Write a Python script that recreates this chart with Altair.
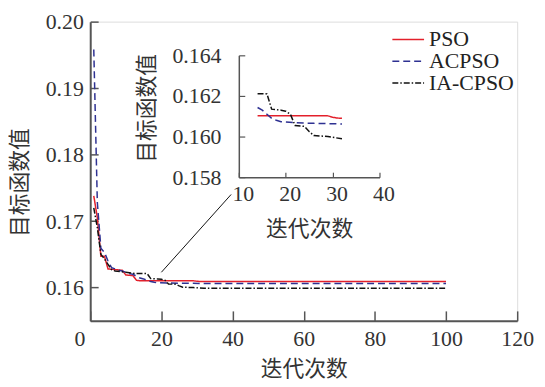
import altair as alt
import pandas as pd

# ---------------- data ----------------
series_names = ["PSO", "ACPSO", "IA-CPSO"]
series_colors = ["#e3202b", "#2e3192", "#111111"]
series_dash = [[1, 0], [7, 4], [6, 2, 1.5, 2]]

pso_iter = [1, 2, 3, 4, 5, 9, 10, 12, 13, 14, 29, 30, 31, 32, 100]
pso_val = [0.1738, 0.1705, 0.1647, 0.1647, 0.1628, 0.1626, 0.1619, 0.1618,
           0.1611, 0.16102, 0.16102, 0.16095, 0.16091, 0.16090, 0.16090]

acpso_iter = [1, 2, 3, 4, 5, 6, 7, 8, 9, 10, 11, 12, 13, 14, 15, 16, 17, 18,
              19, 22, 26, 32, 100]
acpso_val = [0.1958, 0.1728, 0.1659, 0.1653, 0.1640, 0.1630, 0.1628, 0.1626,
             0.1625, 0.1623, 0.1621, 0.1620, 0.1617, 0.16143, 0.1613, 0.1611,
             0.1609, 0.1608, 0.16073, 0.16068, 0.16065, 0.16062, 0.16062]

ia_iter = [1, 2, 3, 4, 5, 6, 7, 10, 13, 14, 15, 16, 17, 19, 20, 21, 22, 24,
           25, 26, 29, 32, 100]
ia_val = [0.1720, 0.1690, 0.1650, 0.1643, 0.1635, 0.1627, 0.1625, 0.1623,
          0.1621, 0.16211, 0.16211, 0.16210, 0.16135, 0.16130, 0.16125,
          0.16110, 0.16054, 0.16050, 0.16025, 0.16005, 0.16000, 0.15989,
          0.15990]

main_x_ticks = [0, 20, 40, 60, 80, 100, 120]
main_y_ticks = [0.16, 0.17, 0.18, 0.19, 0.20]
inset_x_ticks = [10, 20, 30, 40]
inset_y_ticks = [0.158, 0.160, 0.162, 0.164]

# connector from the curves (main coordinates) to the inset corner
connector_x = [20, 39.6]
connector_y = [0.1623, 0.1740]

x_title = "迭代次数"
y_title = "目标函数值"

# ---------------- layout ----------------
TOP = 12
W, H = 431, 314 - TOP
FONT = "Liberation Serif, Noto Sans CJK SC"
FS = 22
TXT = "#333333"
AX = "#555555"

# inset plot rectangle, relative to the main plot origin
IN_L, IN_R = 150, 292
IN_T, IN_B = 54 - 8 - TOP, 177 - 8 - TOP

rows = []
for name, its, vals in [("PSO", pso_iter, pso_val),
                        ("ACPSO", acpso_iter, acpso_val),
                        ("IA-CPSO", ia_iter, ia_val)]:
    for i, (it, v) in enumerate(zip(its, vals)):
        rows.append({"series": name, "iter": it, "value": v, "ord": i})
df = pd.DataFrame(rows)
conn_df = pd.DataFrame({"cx": connector_x, "cy": connector_y})

main_xs = alt.Scale(domain=[0, 120], range=[0, W], nice=False, zero=False)
main_ys = alt.Scale(domain=[0.155, 0.20], range=[H, 0], nice=False, zero=False)
in_xs = alt.Scale(domain=[10, 40], range=[IN_L, IN_R], nice=False, zero=False)
in_ys = alt.Scale(domain=[0.158, 0.164], range=[IN_B, IN_T], nice=False, zero=False)

color_enc = alt.Color(
    "series:N",
    scale=alt.Scale(domain=series_names, range=series_colors),
    sort=series_names,
    legend=alt.Legend(
        title=None, orient="none", legendX=310, legendY=27 - 8 - TOP,
        symbolType="M-2,0H2", symbolSize=256, symbolStrokeWidth=1.5,
        labelFont=FONT, labelFontSize=FS, labelColor="#222222",
        labelOffset=10, rowPadding=0, padding=0,
    ),
)
dash_enc = alt.StrokeDash(
    "series:N",
    scale=alt.Scale(domain=series_names, range=series_dash),
    sort=series_names,
    legend=None,
)

common_axis = dict(grid=False, labelFont=FONT, labelFontSize=FS, labelColor=TXT,
                   titleFont=FONT, titleFontSize=FS, titleColor=TXT,
                   titleFontWeight="normal")

# main lines + main labelled axes
main_lines = alt.Chart(df).mark_line(strokeWidth=1.5).encode(
    x=alt.X("iter:Q", scale=main_xs, axis=alt.Axis(
        values=main_x_ticks[1:], ticks=False, domainColor=AX, domainWidth=2,
        labelPadding=8, labelFlush=False, title=x_title, titlePadding=9,
        **common_axis)),
    y=alt.Y("value:Q", scale=main_ys, axis=alt.Axis(
        values=main_y_ticks, format=".2f", ticks=False, domainColor=AX,
        domainWidth=2, labelPadding=7, title=y_title, titlePadding=14,
        titleY=182 - 8 - TOP, **common_axis)),
    color=color_enc,
    strokeDash=dash_enc,
    order="ord:Q",
)

# the "0" label of the main x axis sits left of the origin
zero_label = alt.Chart(df).mark_point(opacity=0).encode(
    x=alt.X("iter:Q", scale=main_xs, axis=alt.Axis(
        orient="bottom", values=main_x_ticks[:1], ticks=False, domain=False,
        labelPadding=8, labelFlush=False, labelOffset=-11, title=None,
        **common_axis)),
    y=alt.Y("value:Q", scale=main_ys, axis=None),
)

# main inward ticks
main_ticks = alt.Chart(df).mark_point(opacity=0).encode(
    x=alt.X("iter:Q", scale=main_xs, axis=alt.Axis(
        orient="top", offset=-H, values=main_x_ticks, labels=False,
        domain=False, tickSize=10, tickColor=AX, tickWidth=1.5, title=None,
        grid=False)),
    y=alt.Y("value:Q", scale=main_ys, axis=alt.Axis(
        orient="right", offset=-W, values=main_y_ticks, labels=False,
        domain=False, tickSize=8, tickColor=AX, tickWidth=1.5, title=None,
        grid=False)),
)

# inset lines + labelled axes
inset_lines = alt.Chart(df).transform_filter(
    "datum.iter >= 14 && datum.iter <= 32"
).mark_line(strokeWidth=1.5).encode(
    x=alt.X("iter:Q", scale=in_xs, axis=alt.Axis(
        orient="bottom", offset=-(H - IN_B), values=inset_x_ticks, ticks=False,
        domainColor=AX, domainWidth=1.5, labelPadding=7, labelFlush=False,
        labelOffset=4, title=x_title, titlePadding=14, **common_axis)),
    y=alt.Y("value:Q", scale=in_ys, axis=alt.Axis(
        orient="left", offset=-IN_L, values=inset_y_ticks, format=".3f",
        ticks=False, domainColor=AX, domainWidth=1.5, labelPadding=18,
        title=y_title, titlePadding=14, titleY=107 - 8 - TOP, **common_axis)),
    color=color_enc,
    strokeDash=dash_enc,
    order="ord:Q",
)

inset_ticks = alt.Chart(df).transform_filter(
    "datum.iter >= 14 && datum.iter <= 32"
).mark_point(opacity=0).encode(
    x=alt.X("iter:Q", scale=in_xs, axis=alt.Axis(
        orient="top", offset=-IN_B, values=inset_x_ticks, labels=False,
        domain=False, tickSize=5, tickColor=AX, tickWidth=1.2, title=None,
        grid=False)),
    y=alt.Y("value:Q", scale=in_ys, axis=alt.Axis(
        orient="right", offset=-(W - IN_L), values=inset_y_ticks, labels=False,
        domain=False, tickSize=6, tickColor=AX, tickWidth=1.2, title=None,
        grid=False)),
)

connector = alt.Chart(conn_df).mark_line(color="#111111", strokeWidth=1).encode(
    x=alt.X("cx:Q", scale=main_xs, axis=None),
    y=alt.Y("cy:Q", scale=main_ys, axis=None),
)

chart = alt.layer(
    main_lines, zero_label, main_ticks, inset_lines, inset_ticks, connector
).resolve_scale(
    x="independent", y="independent"
).properties(
    width=W, height=H,
    autosize=alt.AutoSizeParams(type="none"),
    padding={"left": 83, "top": TOP, "right": 20, "bottom": 60},
).configure_view(stroke=None).configure(background="white")

chart.save("out.html", embed_options={"renderer": "svg", "actions": False})
